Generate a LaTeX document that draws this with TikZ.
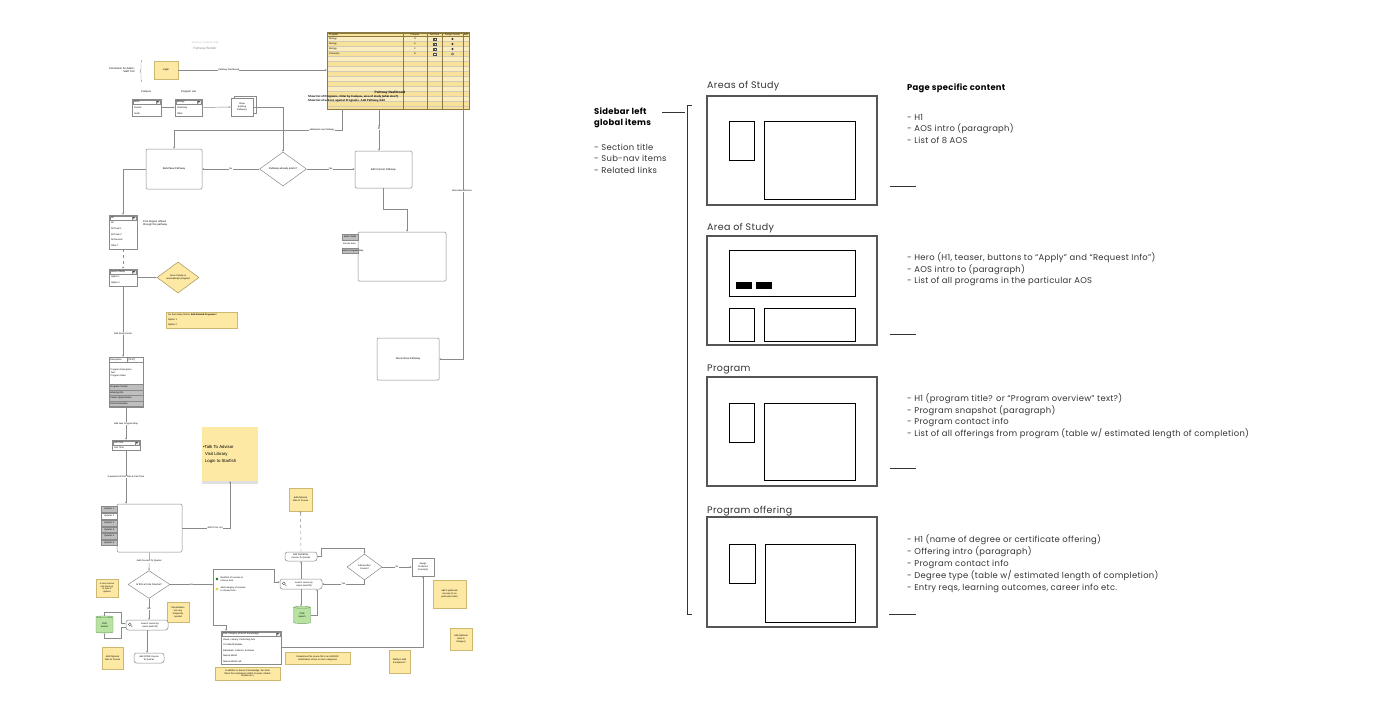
\documentclass[tikz,border=0pt]{standalone}
\usepackage{fontspec}
\setmainfont{Liberation Sans}
\newfontfamily\gfont[LetterSpace=3.5]{Poppins}
\usetikzlibrary{shapes.geometric,arrows.meta,decorations.pathreplacing,shadows,calc}
\definecolor{noteY}{HTML}{FDE9A4}
\definecolor{noteB}{HTML}{CDB872}
\definecolor{dashY}{HTML}{F8E29A}
\definecolor{dashL}{HTML}{FBEDC0}
\definecolor{dashB}{HTML}{8C7A45}
\definecolor{pgrG}{HTML}{B8E2A2}
\definecolor{pgrB}{HTML}{6B9A5B}
\definecolor{tabG}{HTML}{BEBEBE}
\definecolor{lnG}{HTML}{8A8A8A}
\definecolor{wfG}{HTML}{555555}
\definecolor{txG}{HTML}{333333}
\newcommand\fcA{\fontsize{2.6}{3.1}\selectfont}
\newcommand\fcB{\fontsize{2.3}{2.8}\selectfont}
\newcommand\ddhead[5]{%
  \draw[draw=lnG, line width=0.35pt] (#2+0.8,#3+0.8) rectangle (#4-0.8,#3+5.2);
  \draw[draw=lnG, line width=0.3pt, fill=black!8] (#4-5.2,#3+1.2) rectangle (#4-1.2,#3+4.8);
  \fill[black!70] (#4-4.4,#3+2.2) -- (#4-2,#3+2.2) -- (#4-3.2,#3+3.8) -- cycle;
  \node[tt, font=\fcB] (#1) at (#2+1.8,#3+3) {#5};
}
\begin{document}
\begin{tikzpicture}[x=1pt,y=-1pt,
  fbox/.style={draw=lnG, line width=0.5pt, fill=white, rounded corners=1.2pt, inner sep=0pt, align=center, font=\fcA},
  pbox/.style={draw=lnG, line width=0.5pt, fill=white, inner sep=0pt, align=center},
  note/.style={draw=noteB, line width=0.4pt, fill=noteY, inner sep=0pt, align=center, font=\fcB},
  dia/.style={diamond, draw=lnG, line width=0.5pt, fill=white, inner sep=0pt, align=center, font=\fcA},
  conn/.style={draw=lnG, line width=0.45pt, -{Stealth[length=2pt,width=1.6pt]}},
  line/.style={draw=lnG, line width=0.45pt},
  lbl/.style={font=\fcB, fill=white, inner sep=0.3pt},
  tt/.style={font=\fcA, inner sep=0pt, anchor=west},
  tab/.style={draw=lnG, line width=0.4pt, fill=tabG, inner sep=0pt, font=\fcB, anchor=west, minimum width=16, minimum height=5.5},
  cyl/.style={cylinder, shape border rotate=90, aspect=0.25, draw=pgrB, fill=pgrG, line width=0.4pt, minimum width=17, minimum height=17, inner sep=0pt, font=\fcB, align=center},
  wfo/.style={draw=wfG, line width=1.2pt, inner sep=0pt},
  wfi/.style={draw=black, line width=0.8pt, inner sep=0pt},
  gt/.style={font=\gfont\fontsize{8.4}{10}\selectfont, inner sep=0pt, anchor=west, text=txG},
  gh/.style={font=\gfont\fontsize{9.5}{11}\selectfont, inner sep=0pt, anchor=west, text=txG},
  gb/.style={font=\gfont\bfseries\fontsize{8.4}{10}\selectfont, inner sep=0pt, anchor=west, text=black},
  rl/.style={draw=black!80, line width=0.8pt},
]
\fill[white] (0,0) rectangle (1400,725);
\useasboundingbox (0,0) rectangle (1400,725);

%================ LEFT FLOWCHART =================
\node[font=\fontsize{2.4}{3}\selectfont, text=gray!55, inner sep=0] (sub) at (205,43) {Version 1.0 | March 2016};
\node[font=\fontsize{3.2}{3.8}\selectfont, text=gray!90, inner sep=0] (ttl) at (205,48.5) {Pathway Builder};
\node[font=\fcA, align=right, inner sep=0] (perm) at (122,70) {Permission for Admin,\\Staff, Tutr};
\draw[line, decorate, decoration={brace, amplitude=2pt}] (142,82) -- (142,60);
\node[note, font=\fcA, minimum width=24, minimum height=18] (login) at (166,70) {Login};

% dashboard
\node[draw=dashB, fill=dashY, line width=0.5pt, minimum width=142, minimum height=76, inner sep=0] (dash) at (398,71) {};
\foreach \k in {0,2,...,12} \fill[dashL] (327.4,36+5*\k) rectangle (468.6,41+5*\k);
\foreach \k in {1,...,14} \draw[dashB!40, line width=0.2pt] (327.4,36+5*\k) -- (468.6,36+5*\k);
\draw[dashB, line width=0.4pt] (327,36) -- (469,36);
\foreach \xx in {403,427,442,463} \draw[dashB, line width=0.6pt] (\xx,33) -- (\xx,109);
\draw[dashB, line width=0.5pt] (dash.north west) rectangle (dash.south east);
\node[tt, font=\fcB] (dh1) at (329,34.6) {Program};
\node[font=\fcB, inner sep=0] (dh2) at (415,34.6) {Campus};
\node[font=\fcB, inner sep=0] (dh3) at (434.5,34.6) {Full Time};
\node[font=\fcB, inner sep=0] (dh4) at (452.5,34.6) {Assign Course};
\node[font=\fcB, inner sep=0] (dh5) at (466,34.6) {Edit};
\foreach \r/\p/\c/\yy in {1/Biology/N/39,2/Biology/S/44,3/Biology/C/49,4/Chemistry/N/54} {
  \node[tt, font=\fcB] (dp\r) at (329,\yy) {\p};
  \node[font=\fcB, inner sep=0] (dc\r) at (415,\yy) {\c};
  \draw[black!70, line width=0.3pt, fill=white] (433.3,\yy-1.3) rectangle (435.9,\yy+1.3);
}
\foreach \yy in {39,44,49} {
  \draw[black!80, line width=0.3pt] (433.8,\yy) -- (434.5,\yy+0.8) -- (435.5,\yy-0.9);
  \fill[black!80] (452.5,\yy) circle[radius=1.1pt];
}
\draw[black!80, line width=0.35pt, fill=white] (452.5,54) circle[radius=1.1pt];
\node[font=\fontsize{3.2}{3.8}\selectfont\bfseries, inner sep=0] (dtitle) at (390,92.5) {Pathway Dashboard};
\node[tt, font=\fontsize{2.8}{3.4}\selectfont\bfseries] (dl1) at (308,97) {Show list of Programs. Filter by Campus, area of study (what else?)};
\node[tt, font=\fontsize{2.8}{3.4}\selectfont\bfseries] (dl2) at (308,101) {Show list of actions against Programs.  Add Pathway, Edit};

% campus / program list / doc
\node[font=\fcA, inner sep=0] (campl) at (146,92) {Campus};
\node[pbox, minimum width=29, minimum height=17] (camp) at (146.5,107.5) {};
\ddhead{camph}{132}{99}{161}{North}
\node[tt, font=\fcB] (camp2) at (133.8,107.8) {Central};
\node[tt, font=\fcB] (camp3) at (133.8,113.2) {South};
\node[font=\fcA, inner sep=0] (progl) at (188.5,92) {Program List};
\node[pbox, minimum width=27, minimum height=17] (prog) at (188.5,107.5) {};
\ddhead{progh}{175}{99}{202}{Biology}
\node[tt, font=\fcB] (prog2) at (176.8,107.8) {Chemistry};
\node[tt, font=\fcB] (prog3) at (176.8,113.2) {Other};
\draw[line, fill=white] (234,96) rectangle (256,113);
\node[pbox, minimum width=22, minimum height=18, font=\fcB] (doc) at (242,107) {Show\\Existing\\Pathways};

% build / exists / edit
\node[fbox, minimum width=56, minimum height=40] (build) at (174,169) {Build New Pathway};
\node[dia, minimum width=47, minimum height=34] (exists) at (283,169) {Pathway already exists?};
\node[fbox, minimum width=57, minimum height=37] (edit) at (383.5,169.5) {Edit Current Pathway};

% degree dropdown
\node[pbox, minimum width=28, minimum height=34] (alld) at (123,232) {};
\ddhead{allh}{109}{215}{137}{All}
\node[tt, font=\fcB] (all1) at (110.8,223) {All};
\node[tt, font=\fcB] (all2) at (110.8,228.7) {All Track 1};
\node[tt, font=\fcB] (all3) at (110.8,234.3) {All Track 2};
\node[tt, font=\fcB] (all4) at (110.8,240) {All General};
\node[tt, font=\fcB] (all5) at (110.8,245.6) {Other?};
\node[tt, align=left] (pickdeg) at (143,223.5) {Pick Degree offered\\through this pathway};

% area of study dropdown
\node[pbox, minimum width=28, minimum height=17] (ard) at (123,277.5) {};
\ddhead{ardh}{109}{269}{137}{Area of Study}
\node[tt, font=\fcB] (ard1) at (110.8,277.3) {Option 1};
\node[tt, font=\fcB] (ard2) at (110.8,282.7) {Option 2};
\node[dia, fill=noteY, draw=noteB!80!black, minimum width=42, minimum height=31, font=\fcB] (auto) at (178,277.5) {Area of study is\\automatically assigned};
\node[note, minimum width=71, minimum height=16] (sec) at (201.5,320) {};
\node[tt, font=\fcB] (sec1) at (168,314.5) {No Secondary field to \textbf{Add Related Programs}?};
\node[tt, font=\fcB] (sec2) at (168,319.5) {Option 1};
\node[tt, font=\fcB] (sec3) at (168,324.5) {Option 2};

% tabbed box
\node[fbox, minimum width=88, minimum height=49] (tabs) at (402,256.5) {};
\node[tab] (tab1) at (342,237) {Basic Fields};
\node[tt, font=\fcB] (tab2) at (342.6,243.6) {Course Area};
\node[tab] (tab3) at (342,250.5) {Select Program};
\node[tt, font=\fcB] (tab3b) at (358.8,250.5) {Map};

% discontinue
\node[pbox, rounded corners=1pt, minimum width=62, minimum height=42, font=\fcA] (disc) at (408,359) {Discontinue Pathway};

% description box
\node[pbox, minimum width=34, minimum height=50] (desc) at (126,382) {};
\draw[line] (109,362) -- (143,362);
\draw[line] (127,357) -- (127,362);
\node[tt, font=\fcB] (de1) at (110,359.6) {Description};
\node[tt, font=\fcB] (de2) at (128,359.6) {[TEXT]};
\node[tt, font=\fcB, align=left] (de3) at (110.5,373) {Program Description\\Text\\Program Video};
\foreach \i/\t in {0/Program Contact,1/Advising Info,2/Career Opportunities,3/Future Education} {
  \draw[draw=lnG, line width=0.35pt, fill=tabG] (109,384.5+5.5*\i) rectangle (143,390+5.5*\i);
  \node[tt, font=\fcB] (dg\i) at (110,387.3+5.5*\i) {\t};
}

% full time dropdown
\node[pbox, minimum width=28, minimum height=10] (ft) at (126,445) {};
\ddhead{fth}{112}{440}{140}{Full Time}
\node[tt, font=\fcB] (ft2) at (113.8,447.8) {Part Time};

% sticky
\node[draw=none, fill=noteY, inner sep=0, minimum width=56, minimum height=54, drop shadow={shadow xshift=0pt, shadow yshift=-2.5pt, opacity=0.25}] (sticky) at (230,454) {};
\node[anchor=north west, inner sep=0, align=left, font=\fontsize{4.3}{6.6}\selectfont] (stickyt) at (203,445.5) {\textbullet Talk To Advisor\\\hspace*{1.9pt}Visit Library\\\hspace*{1.9pt}Login to Starfish};

% quarter box
\node[fbox, minimum width=65, minimum height=48] (qbox) at (149.5,528) {};
\node[tab] (q1) at (101,509) {Quarter 1};
\node[tab, fill=white] (q2) at (101,516) {Quarter 2};
\node[tab] (q3) at (101,523) {Quarter 3};
\node[tab] (q4) at (101,529.5) {Quarter 4};
\node[tab] (q5) at (101,536) {Quarter 5};
\node[tab] (q6) at (101,542.5) {Quarter 6};

% core course area
\node[dia, minimum width=42, minimum height=25] (core) at (149,584.5) {Is this a Core Course?};
\node[note, minimum width=22, minimum height=18] (n3opt) at (107,588) {A core course\\can have up\\to max 3\\options};
\node[note, minimum width=22, minimum height=20] (place) at (178,612) {Placeholders\\not very\\frequently\\needed};
\node[cyl] (pgr2) at (104.5,625) {PGR\\Search};
\node[fbox, rounded corners=2.5pt, minimum width=42, minimum height=10, font=\fcB] (search2) at (147,625) {\hspace*{6pt}search course by\\\hspace*{6pt}name (auto fill)};
\draw[black!70, line width=0.35pt] ([xshift=4pt,yshift=0.6pt]search2.west) circle[radius=1.5pt];
\draw[black!70, line width=0.45pt] ([xshift=5.1pt,yshift=-0.5pt]search2.west) -- ([xshift=6.6pt,yshift=-2pt]search2.west);
\node[fbox, rounded corners=2.5pt, minimum width=30, minimum height=10, font=\fcB] (addcore) at (149,658) {Add CORE Course\\To Quarter};
\node[note, minimum width=21, minimum height=22] (addopt2) at (112.5,658) {Add Optional\\Note to Course};

\coordinate (bartop) at (213,569);
\coordinate (barbot) at (213,625);
\node[circle, fill=green!45!black, inner sep=0, minimum size=2.6] (o1) at (217,579) {};
\node[tt, align=left, font=\fcB] (o1t) at (220.5,579.5) {Build list of courses to\\choose from};
\node[circle, fill=yellow!80!orange, draw=noteB, line width=0.2pt, inner sep=0, minimum size=2.6] (o2) at (217,589) {};
\node[tt, align=left, font=\fcB] (o2t) at (220.5,589.5) {Add category of courses\\to choose from};

\node[pbox, minimum width=60, minimum height=33] (pick) at (251,647.5) {};
\ddhead{pickh}{221}{631}{281}{Pick Category (Area of Knowledge)}
\node[tt, font=\fcB] (pk1) at (222.8,639.5) {Visual, Literary, Performing Arts};
\node[tt, font=\fcB] (pk2) at (222.8,645) {U.S./World Studies};
\node[tt, font=\fcB] (pk3) at (222.8,650.5) {Individuals, Cultures, Societies};
\node[tt, font=\fcB] (pk4) at (222.8,656) {Natural World};
\node[tt, font=\fcB] (pk5) at (222.8,661.2) {Natural World Lab};
\node[note, minimum width=65, minimum height=13] (pknote) at (247.5,673.5) {In addition to Areas of Knowledge, the other\\filters from myAdvisor (GEN Courses, Global\\Studies etc.)};

% general course area
\node[note, minimum width=23, minimum height=23] (addopt1) at (300.5,499.5) {Add Optional\\Note to Course};
\node[fbox, rounded corners=2.5pt, minimum width=32, minimum height=9, font=\fcB] (general) at (301,556.5) {Add GENERAL\\Course To Quarter};
\node[fbox, rounded corners=2.5pt, minimum width=42, minimum height=10, font=\fcB] (search1) at (301,584) {\hspace*{6pt}search course by\\\hspace*{6pt}name (auto fill)};
\draw[black!70, line width=0.35pt] ([xshift=4pt,yshift=0.6pt]search1.west) circle[radius=1.5pt];
\draw[black!70, line width=0.45pt] ([xshift=5.1pt,yshift=-0.5pt]search1.west) -- ([xshift=6.6pt,yshift=-2pt]search1.west);
\node[cyl] (pgr1) at (302,615.5) {PGR\\Search};
\node[dia, minimum width=35, minimum height=26, font=\fcB] (another) at (364.5,567) {Add another\\Course?};
\node[pbox, minimum width=22, minimum height=18, font=\fcB] (assign) at (423,567) {Assign\\Preferred\\Course(s)};
\node[note, minimum width=33, minimum height=28] (pref) at (449.5,594) {add 3 preferred\\courses (in no\\particular order)};
\node[note, minimum width=22, minimum height=22] (catnote) at (461,639) {Add Optional\\Note to\\Category};
\node[note, minimum width=21, minimum height=23] (ability) at (399.5,661.5) {Ability to Add\\Exceptions?};
\node[note, minimum width=65, minimum height=12] (sometimes) at (317.5,658) {Sometimes this course fits in an AND/OR\\combination of two or more categories};

% connectors
\draw[conn] (login.east) -- (login.east -| dash.west) node[lbl, pos=0.34] (l1) {Pathway Dashboard};
\draw[conn] (camp.east) -- (prog.west);
\draw[conn] (prog.east) -- (doc.west);
\draw[conn] (doc.east) -| (exists.north);
\coordinate (dj) at (342,130);
\draw[conn] (dj |- dash.south) -- (dj) -| (build.north);
\node[lbl] (l2) at (322,130) {add/select new Pathway};
\draw[conn] ([xshift=-4.5pt]edit.north |- dash.south) -- ([xshift=-4.5pt]edit.north) node[lbl, pos=0.45, rotate=90] (l3) {Edit};
\coordinate (dk) at (463,359);
\draw[conn] (dk |- dash.south) -- (dk) -- (disc.east);
\node[lbl] (l4) at (462,191) {discontinue/archive};
\draw[conn] (exists.west) -- (build.east) node[lbl, midway] (l5) {No};
\draw[conn] (exists.east) -- (exists.east -| edit.west) node[lbl, midway] (l6) {Yes};
\draw[conn] (build.west) -| (alld.north);
\coordinate (ej) at (407,209);
\draw[conn] (edit.south) |- (ej) -- (ej |- tabs.north);
\draw[conn, dashed] (alld.south) -- (ard.north);
\draw[conn] (ard.east) -- (auto.west);
\draw[conn] (ard.south) -- (ard.south |- desc.north) node[lbl, pos=0.67] (l7) {Add Study Points};
\draw[conn] (desc.south) -- (desc.south |- ft.north) node[lbl, midway] (l8) {Add New Program Map};
\draw[conn] (ft.south) -- (ft.south |- qbox.north) node[lbl, midway] (l9) {4 quarters list Full Time \& Part Time};
\coordinate (sj) at (230,528);
\draw[conn] (qbox.east) -- (sj) -- (sticky.south);
\node[lbl] (l9b) at (215,528) {Add To Do List};
\draw[conn] (qbox.south) -- (core.north) node[lbl, midway] (l10) {Add Courses To Quarter};
\draw[conn] (core.east) -- (core.east -| bartop) node[lbl, midway] (l11) {No};
\draw[line] (bartop) -- (barbot);
\coordinate (sj2) at (274,582);
\draw[conn] (bartop) -| (sj2) -- (sj2 -| search1.west);
\draw[conn] (barbot) -| ([xshift=-25pt]pick.north);
\draw[conn] (search1.north) -- (general.south);
\draw[conn, dashed] (general.north) -- (addopt1.south);
\draw[conn] (general.east) -- ++(4,0) |- ([yshift=6pt]another.north) -- (another.north);
\draw[conn] (another.south) |- (search1.east) node[lbl, pos=0.75] (l12) {Yes};
\draw[conn] (another.east) -- (assign.west) node[lbl, midway] (l13) {No};
\draw[conn] (search1.south) -- (search1.south |- pgr1.north);
\draw[conn] (pgr1.east) -| ([xshift=16pt]search1.south);
\draw[conn] (pick.east) -| (assign.south);
\draw[conn] (core.south) -- (core.south |- search2.north) node[lbl, midway] (l14) {Yes};
\draw[conn] (search2.south) -- (search2.south |- addcore.north);
\coordinate (pj1) at (121,612);
\draw[conn] (pgr2.north) |- (pj1) |- ([yshift=1.5pt]search2.west);
\coordinate (pj2) at (121,638);
\draw[conn] ([yshift=-2pt]search2.west) -| (pj2) -| (pgr2.south);

%================ RIGHT WIREFRAMES =================
\node[gb] (sb1) at (594,111) {Sidebar left};
\node[gb] (sb2) at (594,123) {global items};
\node[gt] (sb3) at (594,147) {- Section title};
\node[gt] (sb4) at (594,158.5) {- Sub-nav items};
\node[gt] (sb5) at (594,170) {- Related links};
\draw[rl] (662,112) -- (685,112);
\draw[rl] (692,105) -- (687,105) -- (687,614) -- (692,614);

\node[gb] (psc) at (907,88) {Page specific content};

% box 1
\node[gh] (h1) at (707,86) {Areas of Study};
\node[wfo, minimum width=170, minimum height=109] (a1) at (792,150.5) {};
\node[wfi, minimum width=25, minimum height=39] (a1s) at (741.5,140.5) {};
\node[wfi, minimum width=91, minimum height=78] (a1b) at (809.5,160) {};
\draw[rl] (890,186) -- (916,186);
\node[gt] (t11) at (907,117) {- H1};
\node[gt] (t12) at (907,128.7) {- AOS intro (paragraph)};
\node[gt] (t13) at (907,140.4) {- List of 8 AOS};

% box 2
\node[gh] (h2) at (707,228) {Area of Study};
\node[wfo, minimum width=170, minimum height=109] (a2) at (792,290.5) {};
\node[wfi, minimum width=126, minimum height=46] (a2h) at (792,273) {};
\node[fill=black, inner sep=0, minimum width=16, minimum height=7] (a2b1) at (744,285.5) {};
\node[fill=black, inner sep=0, minimum width=16, minimum height=7] (a2b2) at (764,285.5) {};
\node[wfi, minimum width=25, minimum height=33] (a2s) at (741.5,324.5) {};
\node[wfi, minimum width=91, minimum height=33] (a2w) at (809.5,324.5) {};
\draw[rl] (890,334) -- (916,334);
\node[gt] (t21) at (907,258) {- Hero (H1, teaser, buttons to “Apply” and “Request Info”)};
\node[gt] (t22) at (907,269.7) {- AOS intro to  (paragraph)};
\node[gt] (t23) at (907,281.4) {- List of all programs in the particular AOS};

% box 3
\node[gh] (h3) at (707,369) {Program};
\node[wfo, minimum width=170, minimum height=109] (a3) at (792,431.5) {};
\node[wfi, minimum width=25, minimum height=39] (a3s) at (741.5,422.5) {};
\node[wfi, minimum width=91, minimum height=77] (a3b) at (809.5,441.5) {};
\draw[rl] (890,468) -- (916,468);
\node[gt] (t31) at (907,399) {- H1 (program title? or “Program overview” text?)};
\node[gt] (t32) at (907,410.7) {- Program snapshot (paragraph)};
\node[gt] (t33) at (907,422.4) {- Program contact info};
\node[gt] (t34) at (907,434.1) {- List of all offerings from program (table w/ estimated length of completion)};

% box 4
\node[gh] (h4) at (707,511) {Program offering};
\node[wfo, minimum width=170, minimum height=110] (a4) at (792,572) {};
\node[wfi, minimum width=26, minimum height=39] (a4s) at (742,563.5) {};
\node[wfi, minimum width=90, minimum height=78] (a4b) at (810,583) {};
\draw[rl] (889,614) -- (916,614);
\node[gt] (t41) at (907,540) {- H1 (name of degree or certificate offering)};
\node[gt] (t42) at (907,552) {- Offering intro (paragraph)};
\node[gt] (t43) at (907,564) {- Program contact info};
\node[gt] (t44) at (907,576) {- Degree type (table w/ estimated length of completion)};
\node[gt] (t45) at (907,588) {- Entry reqs, learning outcomes, career info etc.};
\end{tikzpicture}
\end{document}
